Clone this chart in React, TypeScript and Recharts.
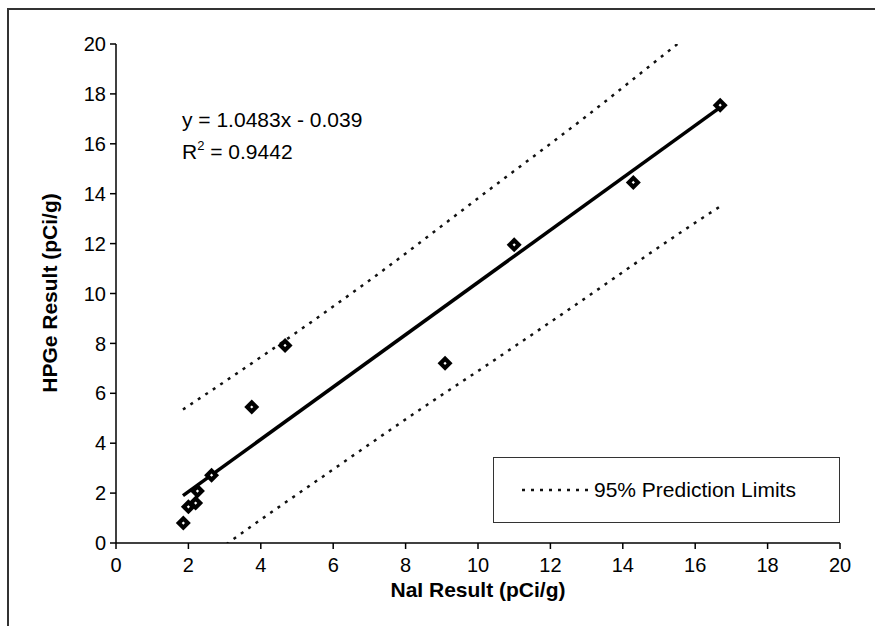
import { ComposedChart, Line, Scatter, XAxis, YAxis } from 'recharts';

// measured points (NaI vs HPGe)
const naiResult = [1.86, 2.0, 2.2, 2.25, 2.64, 3.75, 4.67, 9.09, 11.0, 14.29, 16.69];
const hpgeResult = [0.8, 1.45, 1.6, 2.08, 2.72, 5.45, 7.92, 7.2, 11.95, 14.45, 17.55];

// linear fit, end points
const fitX = [1.85, 16.7];
const fitY = [1.9, 17.47];

// 95% prediction limits
const upperX = [1.85, 4.0, 6.93, 10.33, 12.99, 15.58, 16.7];
const upperY = [5.35, 7.45, 10.45, 14.18, 17.1, 20.08, 21.35];
const lowerX = [1.85, 3.1, 6.0, 8.4, 10.42, 12.36, 15.9, 16.7];
const lowerY = [-1.35, 0.0, 2.95, 5.35, 7.3, 9.21, 12.74, 13.5];

const axisTicks = [0, 2, 4, 6, 8, 10, 12, 14, 16, 18, 20];

const font = '"Liberation Sans", Arial, sans-serif';

const zip = (xs: number[], ys: number[]) => xs.map((x, i) => ({ x, y: ys[i] }));

const Diamond = (props: any) => {
  const { cx, cy } = props;
  if (cx == null || cy == null) return null;
  const r = 7.5;
  const q = 1.6;
  return (
    <g>
      <path d={`M${cx},${cy - r}L${cx + r},${cy}L${cx},${cy + r}L${cx - r},${cy}Z`} fill="#000" />
      <path d={`M${cx},${cy - q}L${cx + q},${cy}L${cx},${cy + q}L${cx - q},${cy}Z`} fill="#fff" />
    </g>
  );
};

export default function App() {
  const points = zip(naiResult, hpgeResult);
  const fit = zip(fitX, fitY);
  const upper = zip(upperX, upperY);
  const lower = zip(lowerX, lowerY);

  const tick = { fill: '#000', fontSize: 20, fontFamily: font };

  return (
    <div style={{ position: 'absolute', left: 0, top: 0, width: 875, height: 626, background: '#fff', fontFamily: font }}>
      <div style={{ position: 'absolute', left: 7, top: 8, right: 0, height: 2, background: '#333' }} />
      <div style={{ position: 'absolute', left: 7, top: 8, bottom: 0, width: 2, background: '#333' }} />

      <ComposedChart width={875} height={626} margin={{ top: 44, right: 35, bottom: 53, left: 56 }}>
        <XAxis
          type="number"
          dataKey="x"
          domain={[0, 20]}
          ticks={axisTicks}
          height={30}
          tickSize={6}
          tickMargin={9}
          tick={tick}
          stroke="#000"
          strokeWidth={1.5}
          allowDataOverflow
        />
        <YAxis
          type="number"
          dataKey="y"
          domain={[0, 20]}
          ticks={axisTicks}
          width={60}
          tickSize={6}
          tickMargin={4}
          tick={tick}
          stroke="#000"
          strokeWidth={1.5}
          allowDataOverflow
        />
        <Line
          data={upper}
          dataKey="y"
          type="monotone"
          stroke="#111"
          strokeWidth={2.5}
          strokeDasharray="3 6"
          dot={false}
          isAnimationActive={false}
        />
        <Line
          data={lower}
          dataKey="y"
          type="monotone"
          stroke="#111"
          strokeWidth={2.5}
          strokeDasharray="3 6"
          dot={false}
          isAnimationActive={false}
        />
        <Line data={fit} dataKey="y" type="linear" stroke="#000" strokeWidth={3.5} dot={false} isAnimationActive={false} />
        <Scatter data={points} dataKey="y" shape={Diamond} isAnimationActive={false} />
      </ComposedChart>

      <div style={{ position: 'absolute', left: 182, top: 106, fontSize: 21, lineHeight: '28px', color: '#000' }}>
        y = 1.0483x - 0.039
      </div>
      <div style={{ position: 'absolute', left: 182, top: 138, fontSize: 21, lineHeight: '28px', color: '#000' }}>
        R<sup style={{ fontSize: 13, verticalAlign: 9, lineHeight: 0 }}>2</sup> = 0.9442
      </div>

      <div
        style={{
          position: 'absolute',
          left: 478,
          top: 590,
          transform: 'translate(-50%, -50%)',
          fontSize: 21,
          fontWeight: 'bold',
          whiteSpace: 'nowrap',
          color: '#000',
        }}
      >
        NaI Result (pCi/g)
      </div>
      <div
        style={{
          position: 'absolute',
          left: 50,
          top: 293,
          transform: 'translate(-50%, -50%) rotate(-90deg)',
          fontSize: 21,
          fontWeight: 'bold',
          whiteSpace: 'nowrap',
          color: '#000',
        }}
      >
        HPGe Result (pCi/g)
      </div>

      <div
        style={{
          position: 'absolute',
          left: 493,
          top: 457,
          width: 345,
          height: 64,
          border: '1.5px solid #333',
          background: '#fff',
        }}
      >
        <svg width={70} height={10} style={{ position: 'absolute', left: 28, top: 27 }}>
          <line x1={0} y1={5} x2={66} y2={5} stroke="#111" strokeWidth={2.5} strokeDasharray="3 6" />
        </svg>
        <div style={{ position: 'absolute', left: 100, top: 18, fontSize: 21, lineHeight: '28px', color: '#000', whiteSpace: 'nowrap' }}>
          95% Prediction Limits
        </div>
      </div>
    </div>
  );
}
